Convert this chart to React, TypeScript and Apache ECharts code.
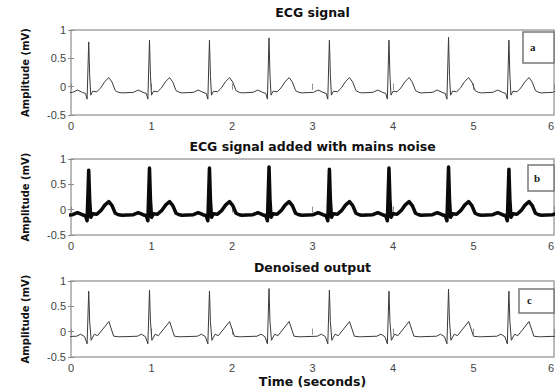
import React, { useEffect, useRef } from "react";
import * as echarts from "echarts";

// ---- data ----
const panelTitles = ["ECG signal", "ECG signal added with mains noise", "Denoised output"];
const panelLetters = ["a", "b", "c"];
const xAxisName = "Time (seconds)";
const yAxisName = "Amplitude (mV)";
const xTickMin = 0;
const xTickMax = 6;
const yTickMin = -0.5;
const yTickMax = 1;

// R-peak times (s) of each heart beat
const beatTimes = [0.22, 0.975, 1.72, 2.46, 3.21, 3.95, 4.69, 5.44, 6.185];
// R-peak amplitudes (mV) per beat
const rPeaksClean = [0.79, 0.82, 0.82, 0.86, 0.82, 0.82, 0.87, 0.82, 0.8];
const rPeaksNoisy = [0.78, 0.82, 0.82, 0.84, 0.8, 0.82, 0.84, 0.8, 0.8];
const rPeaksDenoised = [0.8, 0.82, 0.8, 0.85, 0.82, 0.8, 0.84, 0.8, 0.8];

// beat shape of the raw ECG: offsets (s) from the R peak and values (mV)
const cleanOffsets = [-0.34, -0.2, -0.14, -0.08, -0.04, -0.02, 0, 0.012, 0.025, 0.05, 0.1, 0.15, 0.2, 0.25, 0.29, 0.33, 0.37];
const cleanShape = [-0.11, -0.1, -0.06, -0.1, -0.12, -0.22, 0, 0.2, -0.15, -0.08, -0.09, -0.02, 0.09, 0.16, 0.08, -0.07, -0.1];
const cleanRIndex = 6;

// beat shape of the denoised output
const denoisedOffsets = [-0.34, -0.15, -0.1, -0.05, -0.02, 0, 0.012, 0.03, 0.07, 0.11, 0.25, 0.31, 0.37];
const denoisedShape = [-0.1, -0.09, -0.05, -0.1, -0.24, 0, 0.2, -0.17, -0.05, -0.08, 0.2, -0.09, -0.1];
const denoisedRIndex = 5;

function buildTrace(times: number[], peaks: number[], offsets: number[], shape: number[], rIndex: number) {
  const out: number[][] = [];
  times.forEach((t, b) => {
    offsets.forEach((o, i) => {
      out.push([+(t + o).toFixed(4), i === rIndex ? peaks[b] : shape[i]]);
    });
  });
  return out;
}

const cleanTrace = buildTrace(beatTimes, rPeaksClean, cleanOffsets, cleanShape, cleanRIndex);
const noisyTrace = buildTrace(beatTimes, rPeaksNoisy, cleanOffsets, cleanShape, cleanRIndex);
const denoisedTrace = buildTrace(beatTimes, rPeaksDenoised, denoisedOffsets, denoisedShape, denoisedRIndex);

const gridBoxes = [
  { top: 30, height: 85 },
  { top: 159, height: 76 },
  { top: 281, height: 76 },
];
const titleCenters = [13, 147, 268];
const letterBoxes = [
  { x: 523, y: 32, w: 31, h: 31, tx: 530, ty: 47 },
  { x: 528, y: 165, w: 26, h: 26, tx: 534, ty: 178 },
  { x: 519, y: 289, w: 35, h: 24, tx: 527, ty: 300 },
];

const GRID_LEFT = 71;
const GRID_RIGHT = 1;
const BORDER = "#a4a4a4";
const TICK = "#8a8a8a";
const LABEL_FONT = "'Liberation Sans', Arial, sans-serif";
const TITLE_FONT = "'DejaVu Sans', sans-serif";

export default function App() {
  const ref = useRef<HTMLDivElement>(null);

  useEffect(() => {
    if (!ref.current) return;
    const chart = echarts.init(ref.current, undefined, { renderer: "svg" });

    const grid = gridBoxes.map((g) => ({
      left: GRID_LEFT,
      right: GRID_RIGHT,
      top: g.top,
      height: g.height,
      show: true,
      containLabel: false,
      outerBoundsMode: "none",
      borderColor: BORDER,
      borderWidth: 1.5,
      backgroundColor: "transparent",
    }));

    const baseX = (i: number, pos: "bottom" | "top") => ({
      type: "value",
      gridIndex: i,
      position: pos,
      min: xTickMin,
      max: xTickMax,
      interval: 1,
      axisLine: { show: false },
      axisTick: { show: true, inside: true, length: 3, lineStyle: { color: TICK, width: 1 } },
      splitLine: { show: false },
      axisLabel: {
        show: pos === "bottom",
        fontSize: 11,
        color: "#444",
        margin: 5,
        fontFamily: LABEL_FONT,
        alignMaxLabel: "right",
      },
    });
    const baseY = (i: number, pos: "left" | "right") => ({
      type: "value",
      gridIndex: i,
      position: pos,
      min: yTickMin,
      max: yTickMax,
      interval: 0.5,
      axisLine: { show: false },
      axisTick: { show: true, inside: true, length: 3, lineStyle: { color: TICK, width: 1 } },
      splitLine: { show: false },
      axisLabel: {
        show: pos === "left",
        fontSize: 11,
        color: "#444",
        margin: 5,
        fontFamily: LABEL_FONT,
      },
    });

    const xAxis: any[] = [0, 1, 2].map((i) => baseX(i, "bottom"));
    xAxis[2] = {
      ...xAxis[2],
      name: xAxisName,
      nameLocation: "middle",
      nameGap: 18,
      nameTextStyle: { fontSize: 12.5, fontWeight: "bold", color: "#111", fontFamily: TITLE_FONT },
    };
    [0, 1, 2].forEach((i) => xAxis.push(baseX(i, "top")));

    const yAxis: any[] = [0, 1, 2].map((i) => ({
      ...baseY(i, "left"),
      name: yAxisName,
      nameLocation: "middle",
      nameGap: 41,
      nameTextStyle: { fontSize: 10, fontWeight: "bold", color: "#111", fontFamily: TITLE_FONT },
    }));
    [0, 1, 2].forEach((i) => yAxis.push(baseY(i, "right")));

    const title = panelTitles.map((t, i) => ({
      text: t,
      left: GRID_LEFT + (555 - GRID_LEFT - GRID_RIGHT) / 2,
      textAlign: "center",
      top: titleCenters[i] - 7,
      padding: 0,
      textStyle: { fontSize: 12.5, fontWeight: "bold", color: "#111", fontFamily: TITLE_FONT },
    }));

    const graphic: any[] = [];
    letterBoxes.forEach((b, i) => {
      graphic.push({
        type: "rect",
        shape: { x: b.x, y: b.y, width: b.w, height: b.h },
        style: { fill: "#fff", stroke: "#777", lineWidth: 1.5 },
        z: 100,
      });
      graphic.push({
        type: "text",
        x: b.tx,
        y: b.ty,
        style: {
          text: panelLetters[i],
          fill: "#222",
          font: "bold 11px 'Liberation Serif', serif",
          textVerticalAlign: "middle",
        },
        z: 101,
      });
    });

    const lineSeries = (data: number[][], idx: number, color: string, width: number) => ({
      type: "line",
      xAxisIndex: idx,
      yAxisIndex: idx,
      data,
      showSymbol: false,
      symbol: "none",
      clip: true,
      lineStyle: { color, width, join: "round" },
      emphasis: { disabled: true },
    });

    chart.setOption({
      animation: false,
      backgroundColor: "#fff",
      title,
      grid,
      xAxis,
      yAxis,
      series: [
        lineSeries(cleanTrace, 0, "#3a3a3a", 1),
        lineSeries(noisyTrace, 1, "#0a0a0a", 3.5),
        lineSeries(denoisedTrace, 2, "#3a3a3a", 1),
      ],
      graphic,
    });

    return () => chart.dispose();
  }, []);

  return <div ref={ref} style={{ width: 555, height: 390, position: "absolute", left: 0, top: 0 }} />;
}
